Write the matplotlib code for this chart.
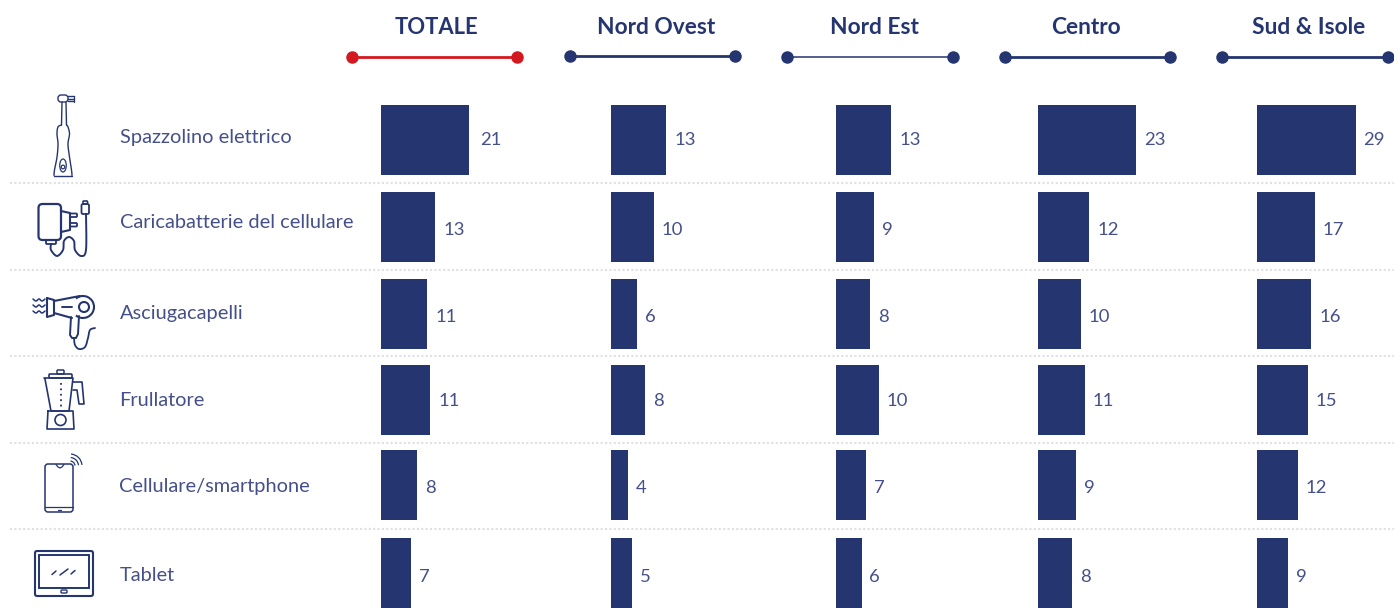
import numpy as np
import matplotlib
matplotlib.use("Agg")
import matplotlib.pyplot as plt
from matplotlib.patches import Circle, FancyBboxPatch, Arc, Ellipse

# ---------- data ----------
categories = ["Spazzolino elettrico", "Caricabatterie del cellulare", "Asciugacapelli",
              "Frullatore", "Cellulare/smartphone", "Tablet"]
panels = ["TOTALE", "Nord Ovest", "Nord Est", "Centro", "Sud & Isole"]
totale_bars = [20.9, 12.9, 11.0, 11.7, 8.6, 7.1]
totale_labels = [21, 13, 11, 11, 8, 7]
nord_ovest = [13, 10, 6, 8, 4, 5]
nord_est = [13, 9, 8, 10, 7, 6]
centro = [23, 12, 10, 11, 9, 8]
sud_isole = [29, 17, 16, 15, 12, 9]

# ---------- style / layout ----------
W, H = 1394, 608
NAVY = "#253570"
TEXT = "#45508a"
RED = "#d2191f"
FONT = "Lato"
bar_x0 = [381, 611, 836, 1038, 1257]
px_per_unit = [4.2, 4.25, 4.25, 4.26, 3.4]
header_cx = [436, 656, 874, 1086, 1309]
line_span = [(352, 517), (570, 735), (787, 953), (1005, 1170), (1222, 1388)]
line_y = [57, 56, 57, 57, 57]
line_w = [2.0, 2.0, 1.1, 2.0, 2.0]
row_y = [140, 227, 314, 400, 485, 573]
bar_h = 70
sep_y = [183, 270, 356, 443, 529]
cat_y = [138, 223, 313.5, 400.5, 486.5, 575.5]
label_dy = [0, 3, 3, 1, 3, 4]

fig = plt.figure(figsize=(W / 100, H / 100), dpi=100, facecolor="white")

# overlay in pixel coordinates for header, separators, labels and icons
bg = fig.add_axes([0, 0, 1, 1])
bg.set_xlim(0, W); bg.set_ylim(H, 0); bg.axis("off")

for y in sep_y:
    bg.plot([10, W], [y, y], color="#e0e0e0", lw=1.5, ls=(0, (1, 1.1)), zorder=1)

for i, name in enumerate(panels):
    c = RED if i == 0 else NAVY
    bg.text(header_cx[i], 28, name, ha="center", va="center",
            fontsize=15.8 if i == 0 else 16.4,
            fontweight="bold", color=NAVY, family=FONT)
    a, b = line_span[i]
    bg.plot([a, b], [line_y[i]] * 2, color=c, lw=line_w[i], zorder=2, solid_capstyle="butt")
    bg.plot([a, b], [line_y[i]] * 2, "o", color=c, ms=9, mew=0, zorder=3)

for name, y in zip(categories, cat_y):
    bg.text(119.5, y, name, ha="left", va="center", fontsize=14.45, color=TEXT, family=FONT)

# bars
series = [totale_bars, nord_ovest, nord_est, centro, sud_isole]
shown = [totale_labels, nord_ovest, nord_est, centro, sud_isole]
for p, vals in enumerate(series):
    ax = fig.add_axes([bar_x0[p] / W, 0, 150 / W, 1])
    ax.patch.set_alpha(0)
    ax.set_xlim(0, 150 / px_per_unit[p])
    ax.set_ylim(H, 0)
    ax.axis("off")
    bars = ax.barh(row_y, vals, height=bar_h, color=NAVY, linewidth=0)
    for r, (bar, lab) in enumerate(zip(bars, shown[p])):
        extra = 11 if (p == 0 and r == 0) else 8
        ax.annotate(str(lab), (bar.get_width(), row_y[r]), xytext=(extra * 0.72, -label_dy[r] * 0.72),
                    textcoords="offset points", ha="left", va="center", fontsize=13.3,
                    color=TEXT, family=FONT, annotation_clip=False)

# ---------- icons (decorative, pixel coordinates) ----------
def ln(xs, ys, lw=1.3, color=NAVY):
    return bg.plot(xs, ys, color=color, lw=lw, solid_capstyle="round", solid_joinstyle="round", zorder=4)[0]

def smooth(xs, ys, lw=1.3, n=14):
    p = np.column_stack([xs, ys]).astype(float)
    p = np.vstack([p[0], p, p[-1]])
    out = []
    for i in range(1, len(p) - 2):
        for t in np.linspace(0, 1, n, endpoint=False):
            out.append(0.5 * (2 * p[i] + (p[i + 1] - p[i - 1]) * t
                              + (2 * p[i - 1] - 5 * p[i] + 4 * p[i + 1] - p[i + 2]) * t ** 2
                              + (3 * p[i] - p[i - 1] - 3 * p[i + 1] + p[i + 2]) * t ** 3))
    out.append(p[-2])
    out = np.array(out)
    return ln(out[:, 0], out[:, 1], lw)

def rrect(x0, y0, x1, y1, r=2, lw=1.4):
    bg.add_patch(FancyBboxPatch((x0 + r, y0 + r), x1 - x0 - 2 * r, y1 - y0 - 2 * r,
                                boxstyle=f"round,pad={r},rounding_size={r}",
                                fc="none", ec=NAVY, lw=lw, zorder=4))

# toothbrush
rrect(58, 95, 68, 102, 3, 1.0)
for y in (96, 98.5, 101):
    ln([68, 73.5], [y, y], 1.0)
ln([73.5, 73.5], [95.5, 101.5], 0.9)
ln([62, 61.5], [102, 125], 1.0); ln([66, 66.5], [102, 125], 1.0)
smooth([61.5, 58, 57, 58, 57, 54.5, 54], [125, 127, 134, 144, 157, 170, 175.5], 1.0)
smooth([66.5, 68, 69.5, 68, 69.5, 71.5, 72], [125, 127, 134, 144, 157, 170, 175.5], 1.0)
ln([54, 72], [175.5, 175.5], 1.0)
bg.add_patch(Ellipse((63, 165.5), 6.5, 13, fc="none", ec=NAVY, lw=0.9, zorder=4))
bg.add_patch(Circle((63, 167), 1.8, fc="none", ec=NAVY, lw=0.9, zorder=4))

# charger
rrect(38.5, 204, 61, 240, 4, 1.6)
ln([61, 70, 70, 61], [211, 213, 230, 232], 1.5)
rrect(70, 213.5, 77, 217, 1, 1.3); rrect(70, 223, 77, 226.5, 1, 1.3)
rrect(46, 240, 56, 244, 1, 1.3)
smooth([51, 51, 57, 63, 64, 69, 74, 75, 81, 86, 86],
       [244, 250, 256, 250, 241, 237, 241, 250, 256, 250, 214], 1.4)
rrect(81.5, 204, 89, 214, 1.5, 1.3); rrect(83, 201, 87.5, 204, 0.8, 1.2)

# hair dryer
ln([47, 54, 54, 47, 47], [298, 300, 315, 317, 298], 1.5)
ln([54, 80], [301, 296], 1.5); ln([54, 72], [313, 318], 1.5)
bg.add_patch(Arc((83, 307), 22, 22, theta1=-130, theta2=130, ec=NAVY, lw=1.5, zorder=4))
bg.add_patch(Circle((84, 307), 5, fc="none", ec=NAVY, lw=1.5, zorder=4))
ln([62, 72], [307, 307], 1.4)
ln([71, 70, 72, 76, 78, 79], [317, 335, 338, 338, 334, 316], 1.4)
smooth([74, 75, 79, 85, 88, 90, 95], [338, 345, 349, 347, 338, 330, 328], 1.3)
for y0 in (300, 306, 312):
    smooth([33, 36, 39, 42, 45], y0 + np.array([-1, 1, -1, 1, -1]), 1.1)

# blender
rrect(57, 370, 64, 374, 1, 1.1)
rrect(49, 374, 72, 378, 1, 1.2)
ln([44, 73, 69, 51, 45], [378, 378, 411, 411, 379], 1.2)
ln([48, 73, 74, 47, 48], [411, 411, 429, 429, 411], 1.2)
bg.add_patch(Circle((60.5, 420), 5.5, fc="none", ec=NAVY, lw=1.2, zorder=4))
ln([60.5, 60.5], [383, 408], 1.3).set_linestyle((0, (1, 2)))
ln([73, 82, 84, 79, 77, 73], [382, 382, 404, 404, 390, 390], 1.2)

# phone
rrect(45, 464, 73, 512, 3, 1.1)
ln([45, 73], [507, 507], 0.9)
ln([56, 58, 60, 62, 64], [464.5, 467, 468, 467, 464.5], 0.9)
ln([58, 61], [509.5, 509.5], 0.9)
for r in (5, 8.5, 12):
    bg.add_patch(Arc((70, 466), 2 * r, 2 * r, theta1=-85, theta2=-5, ec=NAVY, lw=0.9, zorder=4))

# tablet
rrect(35, 551, 93, 596, 2, 1.5)
bg.add_patch(plt.Rectangle((39, 555), 50, 33, fc="none", ec=NAVY, lw=1.4, zorder=4))
rrect(61, 590, 67, 593, 1, 1.0)
ln([52, 56], [574.5, 571], 1.1); ln([60, 68], [575, 569], 1.1); ln([71, 75], [574, 570.5], 1.1)

fig.savefig("out.png", dpi=100, facecolor="white")
